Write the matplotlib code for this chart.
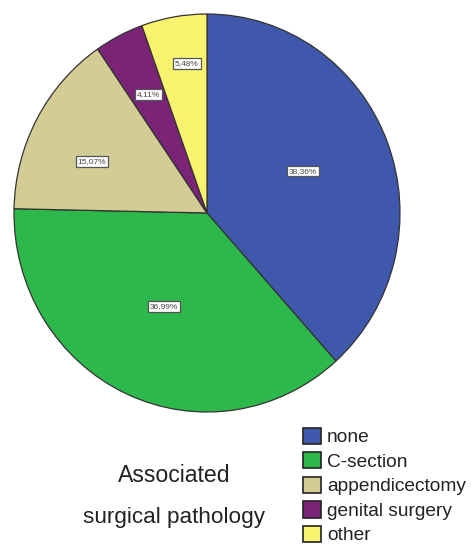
import numpy as np
import matplotlib
matplotlib.use("Agg")
import matplotlib.pyplot as plt

categories = ["none", "C-section", "appendicectomy", "genital surgery", "other"]
values = [38.36, 36.99, 15.07, 4.11, 5.48]
labels = ["38,36%", "36,99%", "15,07%", "4,11%", "5,48%"]
colors = ["#3F58AB", "#2DB84B", "#D3CD95", "#7A2377", "#F8F36E"]
label_r = [0.54, 0.52, 0.65, 0.67, 0.76]
label_da = [2, -1, 5, 0, -2]

plt.rcParams['font.family'] = ['Liberation Sans', 'DejaVu Sans']

W, H = 471, 548
fig = plt.figure(figsize=(W / 100, H / 100), dpi=100)
cx, cy, RX, RY = 207, 213, 193, 199
ax = fig.add_axes([(cx - RX) / W, (H - cy - RY) / H, 2 * RX / W, 2 * RY / H])

wedges, _ = ax.pie(values, colors=colors, startangle=90, counterclock=False,
                   wedgeprops=dict(edgecolor="#333333", linewidth=0.9))
ax.set_aspect("auto")
ax.set_xlim(-1, 1)
ax.set_ylim(-1, 1)

total = sum(values)
cum = 0
for v, lab, r, da in zip(values, labels, label_r, label_da):
    mid = 90 - (cum + v / 2) / total * 360 + da
    cum += v
    a = np.deg2rad(mid)
    ax.text(r * np.cos(a), r * np.sin(a), lab, ha="center", va="center",
            fontsize=6, color="#444444",
            bbox=dict(boxstyle="square,pad=0.22", fc="white", ec="#555555", lw=0.9))

fig.text(174 / W, 1 - 476 / H, "Associated", ha="center", va="center", fontsize=16.6, color="#222222")
fig.text(174 / W, 1 - 518 / H, "surgical pathology", ha="center", va="center", fontsize=16.2, color="#222222")

leg = fig.legend(wedges, categories, loc="upper left", bbox_to_anchor=(303 / W, 1 - 427.5 / H),
                 frameon=False, fontsize=13.8, handlelength=0.94, handleheight=0.94,
                 handletextpad=0.31, labelspacing=0.30, borderaxespad=0, borderpad=0)
for h in leg.legend_handles:
    h.set_edgecolor("#222222")
    h.set_linewidth(1.2)
for t in leg.get_texts():
    t.set_color("#222222")

fig.savefig("out.png", dpi=100)
